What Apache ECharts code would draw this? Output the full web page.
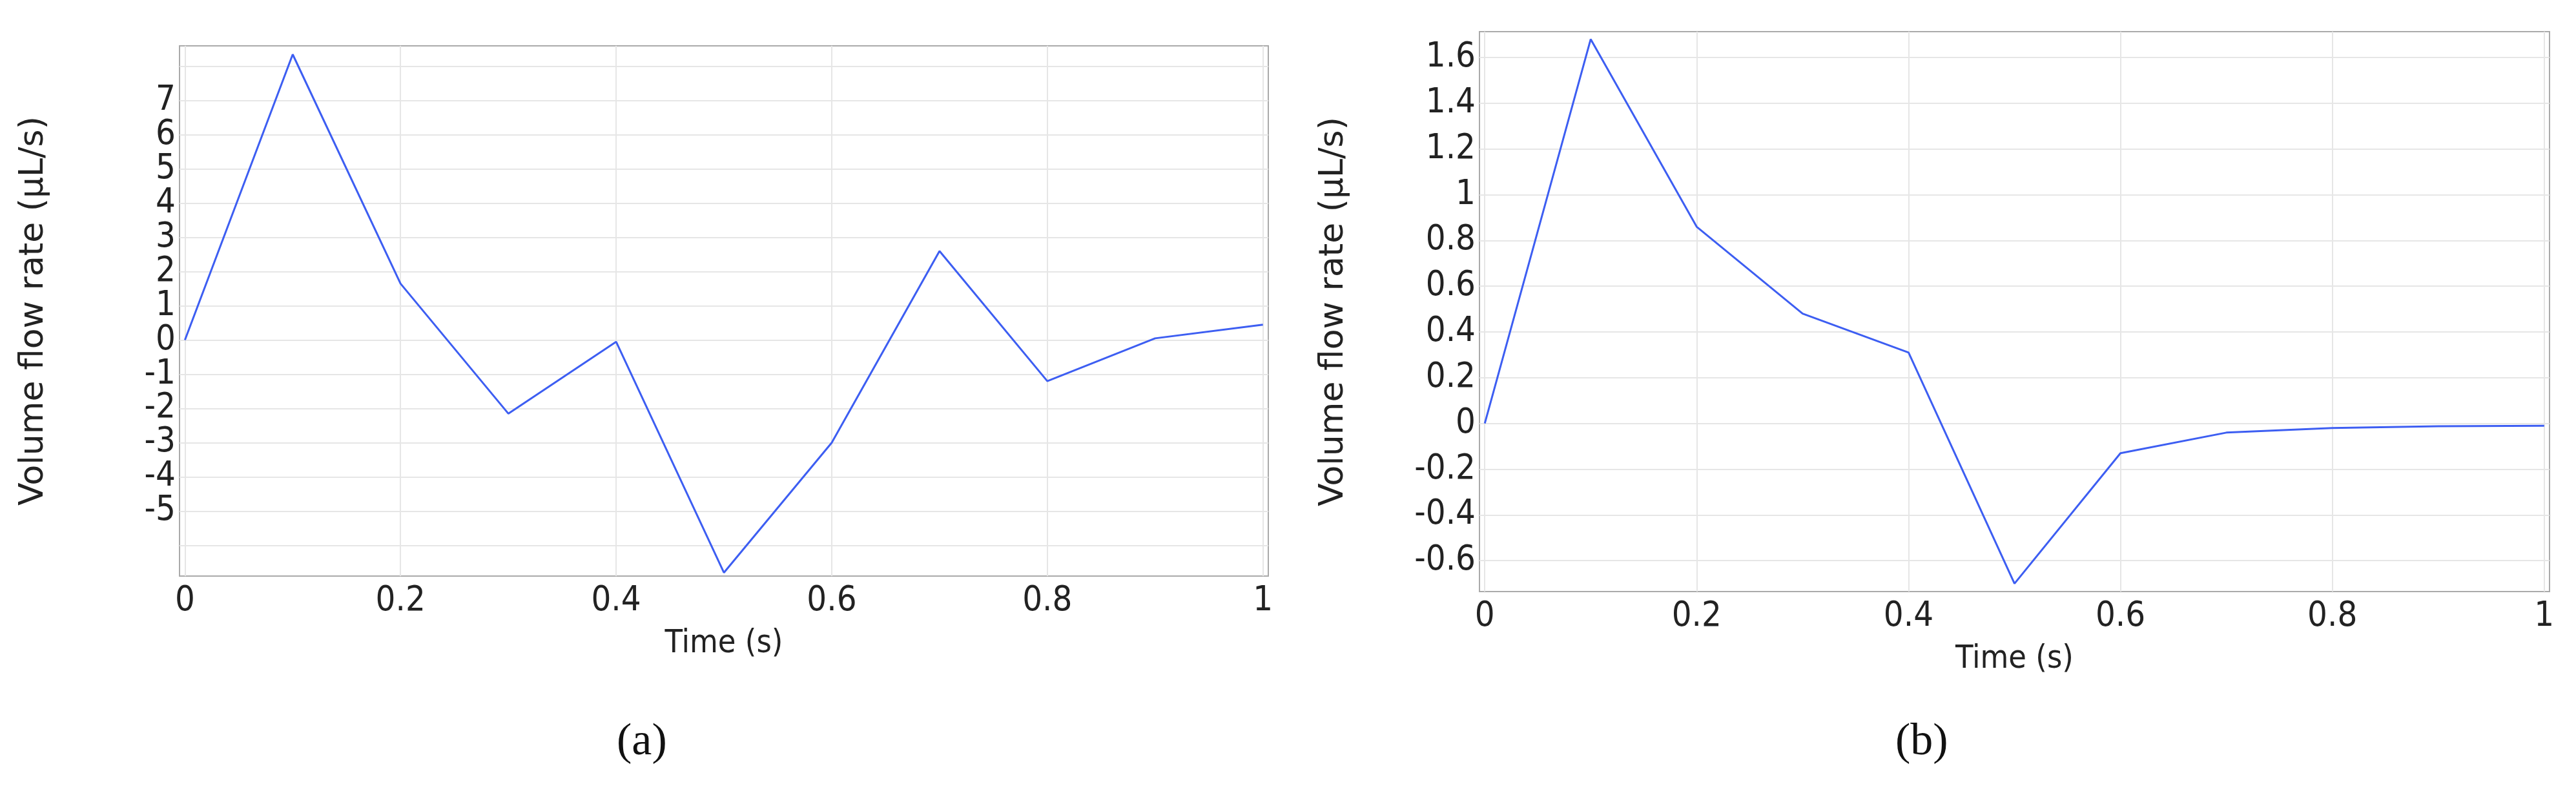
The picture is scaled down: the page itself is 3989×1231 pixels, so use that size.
<!DOCTYPE html>
<html>
<head>
<meta charset="utf-8">
<script src="https://cdn.jsdelivr.net/npm/echarts@6/dist/echarts.min.js"></script>
<style>
html,body{margin:0;padding:0;background:#fff;}
#main{width:3989px;height:1231px;}
</style>
</head>
<body>
<div id="main"></div>
<script>
// time values (s)
var timeA = [0, 0.1, 0.2, 0.3, 0.4, 0.5, 0.6, 0.7, 0.8, 0.9, 1.0];
var flowA = [0, 8.35, 1.65, -2.15, -0.05, -6.8, -3.0, 2.6, -1.2, 0.05, 0.45];
var timeB = [0, 0.1, 0.2, 0.3, 0.4, 0.5, 0.6, 0.7, 0.8, 0.9, 1.0];
var flowB = [0, 1.68, 0.86, 0.48, 0.31, -0.70, -0.13, -0.04, -0.02, -0.012, -0.01];
// tick labels
var xTicks = [0, 0.2, 0.4, 0.6, 0.8, 1];
var yTicksA = [-6, -5, -4, -3, -2, -1, 0, 1, 2, 3, 4, 5, 6, 7, 8];
var yTicksB = [-0.6, -0.4, -0.2, 0, 0.2, 0.4, 0.6, 0.8, 1, 1.2, 1.4, 1.6];

var myChart = echarts.init(document.getElementById('main'));
var cond = 'DejaVu Sans Condensed, DejaVu Sans';

function pairs(xs, ys) {
    var out = [];
    for (var i = 0; i < xs.length; i++) out.push([xs[i], ys[i]]);
    return out;
}
function gridLines(xv, yv) {
    var d = [];
    xv.forEach(function (v) { d.push({ xAxis: v }); });
    yv.forEach(function (v) { d.push({ yAxis: v }); });
    return d;
}
function xAxisCfg(idx) {
    return {
        gridIndex: idx, type: 'value', min: -0.005, max: 1.005,
        name: 'Time (s)', nameLocation: 'middle', nameGap: 80,
        nameTextStyle: { fontFamily: cond, fontSize: 50, color: '#222' },
        axisLine: { show: true, lineStyle: { color: '#aaa', width: 2 } },
        axisTick: { show: false },
        splitLine: { show: false },
        axisLabel: { customValues: xTicks, fontFamily: cond, fontSize: 54, color: '#222', margin: 12 }
    };
}
function yAxisCfg(idx, ticks, min, max) {
    return {
        gridIndex: idx, type: 'value', min: min, max: max,
        name: 'Volume flow rate (µL/s)', nameLocation: 'middle', nameGap: 200,
        nameTextStyle: { fontFamily: 'DejaVu Sans', fontSize: 52, color: '#222' },
        axisLine: { show: true, lineStyle: { color: '#aaa', width: 2 } },
        axisTick: { show: false },
        splitLine: { show: false },
        axisLabel: { customValues: ticks, fontFamily: cond, fontSize: 54, color: '#222', margin: 6 }
    };
}
function lineSeries(idx, xs, ys, xv, yv) {
    return {
        type: 'line', xAxisIndex: idx, yAxisIndex: idx,
        data: pairs(xs, ys), showSymbol: false, symbol: 'none',
        lineStyle: { color: '#3d5ef2', width: 3 },
        markLine: {
            silent: true, symbol: 'none', label: { show: false },
            lineStyle: { color: '#e6e6e6', type: 'solid', width: 2 },
            z: 1, data: gridLines(xv, yv)
        }
    };
}

option = {
    backgroundColor: '#fff',
    animation: false,
    grid: [
        { left: 278, top: 71, width: 1686, height: 821, show: true, borderColor: '#aaa', borderWidth: 2 },
        { left: 2291, top: 49, width: 1657, height: 867, show: true, borderColor: '#aaa', borderWidth: 2 }
    ],
    xAxis: [xAxisCfg(0), xAxisCfg(1)],
    yAxis: [yAxisCfg(0, yTicksA, -6.9, 8.6), yAxisCfg(1, yTicksB, -0.735, 1.713)],
    series: [
        lineSeries(0, timeA, flowA, xTicks, yTicksA),
        lineSeries(1, timeB, flowB, xTicks, yTicksB)
    ],
    graphic: [
        { type: 'text', left: 955, top: 1115, style: { text: '(a)', font: '70px "Liberation Serif", serif', fill: '#111' } },
        { type: 'text', left: 2935, top: 1115, style: { text: '(b)', font: '70px "Liberation Serif", serif', fill: '#111' } }
    ]
};
myChart.setOption(option);
</script>
</body>
</html>
